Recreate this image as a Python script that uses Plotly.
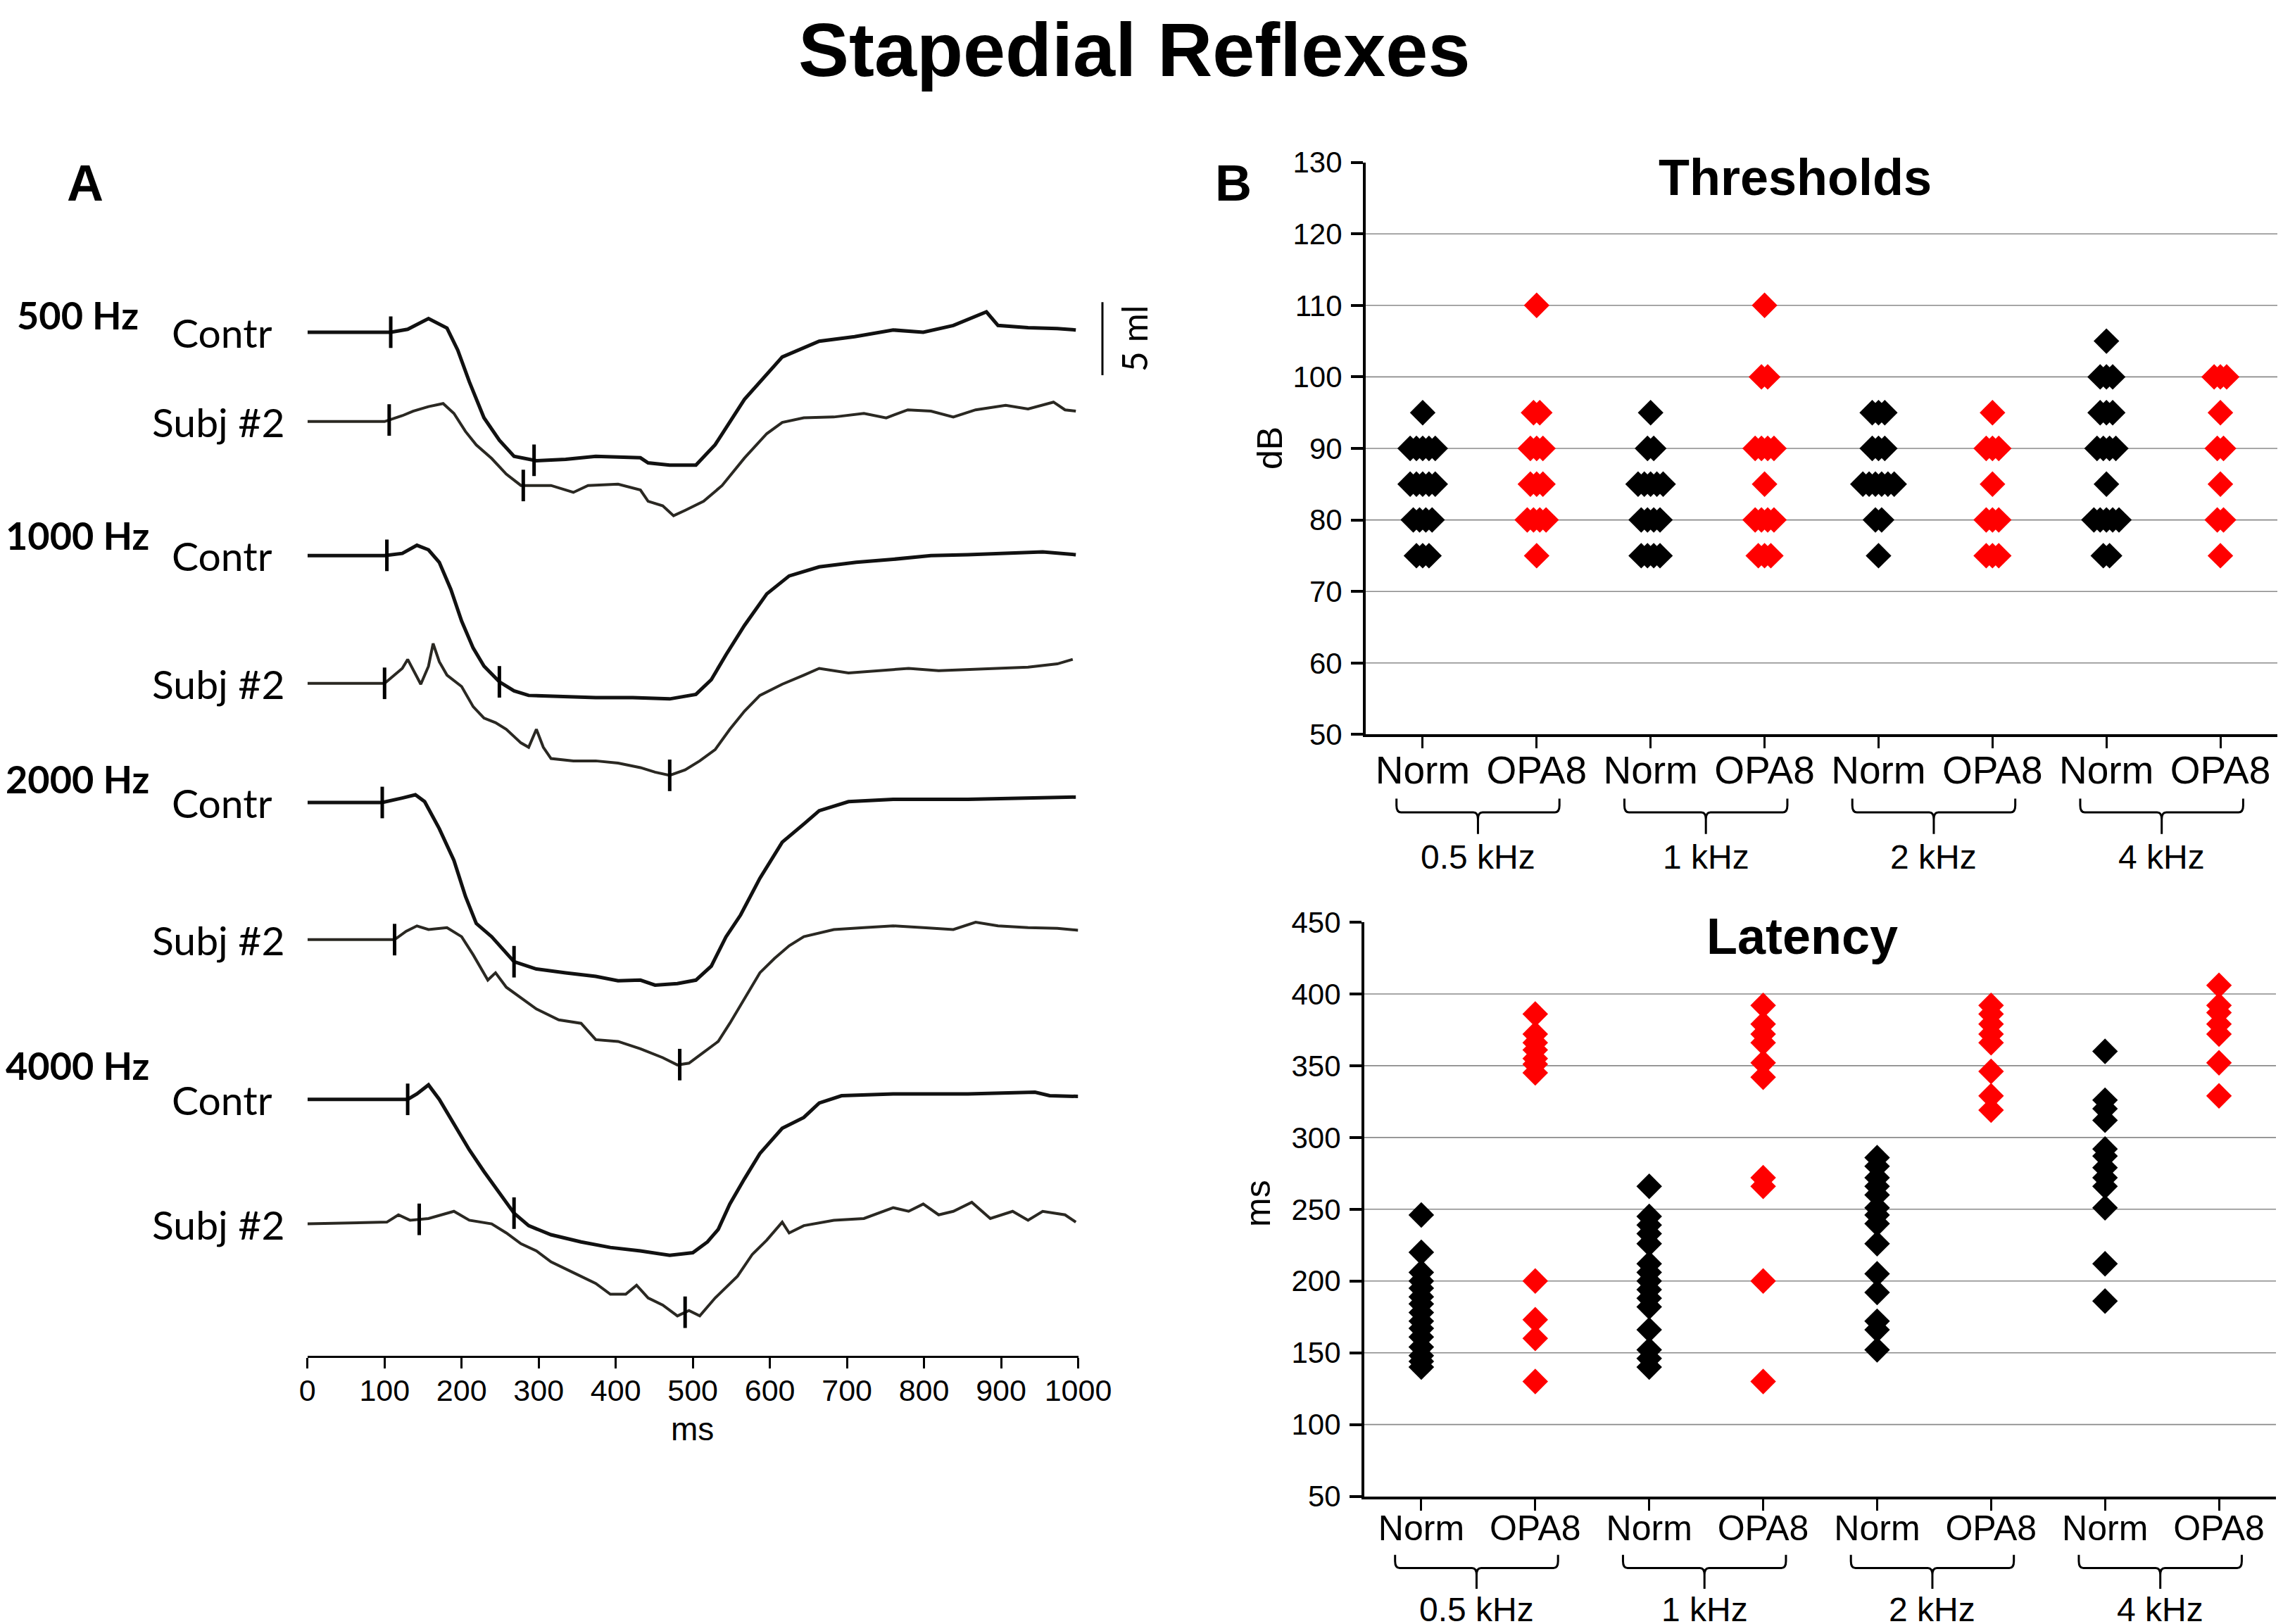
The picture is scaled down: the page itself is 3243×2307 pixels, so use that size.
"""
Stapedial reflexes figure: (A) reflex traces, (B) thresholds and latencies.
"""

import numpy as np
import plotly.graph_objects as go

# ---------------------------------------------------------------------------
# Data - panel A (time in ms, deflection in ml relative to the trace baseline)
# ---------------------------------------------------------------------------

contr_500_t = [0, 100, 108, 130, 157, 181, 195, 210, 229, 249, 268, 297, 335, 374, 432, 442,
               470, 504, 529, 567, 616, 664, 710, 760, 799, 838, 867, 881, 896, 935, 973, 997]
contr_500_v = [0, 0, 0, 0.2, 0.93, 0.28, -1.23, -3.4, -5.86, -7.4, -8.5, -8.8, -8.7, -8.5, -8.6, -8.95,
               -9.1, -9.1, -7.7, -4.6, -1.7, -0.62, -0.31, 0.15, 0, 0.46, 1.08, 1.39, 0.46, 0.31, 0.25, 0.15]

subj_500_t = [0, 100, 123, 137, 157, 176, 190, 205, 219, 239, 258, 277, 316, 345, 364, 403, 432, 442,
              461, 475, 490, 514, 538, 567, 596, 616, 644, 683, 722, 751, 779, 809, 838, 867, 906,
              935, 968, 983, 997]
subj_500_v = [0, 0, 0.4, 0.71, 1.02, 1.23, 0.56, -0.68, -1.6, -2.53, -3.6, -4.38, -4.38, -4.85, -4.38,
              -4.29, -4.69, -5.46, -5.77, -6.45, -6.08, -5.46, -4.38, -2.5, -0.83, -0.06, 0.25, 0.31,
              0.56, 0.25, 0.8, 0.71, 0.31, 0.8, 1.11, 0.86, 1.33, 0.8, 0.71]

contr_1000_t = [0, 100, 123, 142, 157, 171, 186, 200, 215, 229, 249, 268, 287, 326, 374, 422, 470,
                504, 524, 543, 567, 596, 625, 664, 712, 760, 809, 857, 906, 954, 997]
contr_1000_v = [0, 0, 0.15, 0.71, 0.4, -0.46, -2.31, -4.48, -6.33, -7.56, -8.64, -9.26, -9.57, -9.66,
                -9.72, -9.72, -9.81, -9.5, -8.49, -6.79, -4.78, -2.62, -1.39, -0.77, -0.46, -0.25, 0,
                0.06, 0.15, 0.25, 0.06]

subj_1000_t = [0, 100, 123, 130, 147, 157, 163, 171, 181, 200, 215, 229, 244, 258, 277, 287, 297, 306,
               316, 345, 374, 403, 432, 451, 470, 490, 509, 529, 548, 567, 587, 616, 644, 664, 702,
               741, 780, 819, 857, 896, 935, 973, 993]
subj_1000_v = [0, 0, 1.02, 1.64, -0.06, 1.17, 2.72, 1.48, 0.56, -0.22, -1.6, -2.38, -2.69, -3.15, -4.08,
               -4.38, -3.15, -4.38, -5.15, -5.31, -5.31, -5.46, -5.77, -6.08, -6.3, -5.93, -5.31, -4.54,
               -3.15, -1.91, -0.83, -0.06, 0.56, 1.02, 0.71, 0.86, 1.02, 0.86, 0.93, 1.02, 1.11, 1.33, 1.64]

contr_2000_t = [0, 97, 123, 140, 152, 171, 190, 205, 219, 239, 268, 297, 335, 374, 403, 432, 451, 480,
                504, 524, 543, 562, 587, 616, 644, 664, 702, 760, 857, 954, 997]
contr_2000_v = [0, 0, 0.31, 0.53, 0.06, -1.79, -3.96, -6.43, -8.28, -9.19, -10.9, -11.4, -11.66, -11.9,
                -12.2, -12.16, -12.5, -12.4, -12.16, -11.2, -9.2, -7.7, -5.19, -2.72, -1.48, -0.56, 0.06,
                0.22, 0.22, 0.31, 0.37]

subj_2000_t = [0, 100, 113, 128, 142, 157, 181, 200, 215, 234, 244, 258, 277, 297, 326, 355, 374, 403,
               432, 461, 480, 495, 514, 533, 548, 567, 587, 606, 625, 644, 683, 722, 760, 799, 838, 867,
               896, 935, 973, 1000]
subj_2000_v = [0, 0, 0, 0.57, 0.94, 0.69, 0.82, 0.2, -1.04, -2.77, -2.27, -3.26, -4.0, -4.75, -5.49,
               -5.73, -6.85, -6.97, -7.47, -8.08, -8.58, -8.46, -7.71, -6.97, -5.73, -4.0, -2.27, -1.29,
               -0.42, 0.2, 0.69, 0.82, 0.94, 0.82, 0.69, 1.19, 0.94, 0.82, 0.77, 0.64]

contr_4000_t = [0, 130, 142, 157, 171, 190, 210, 229, 249, 268, 287, 316, 355, 393, 432, 470, 500, 519,
                533, 548, 567, 587, 616, 644, 664, 693, 760, 857, 944, 963, 1000]
contr_4000_v = [0, 0, 0.37, 0.99, 0, -1.73, -3.46, -4.94, -6.43, -7.79, -8.65, -9.27, -9.76, -10.14,
                -10.38, -10.68, -10.5, -9.76, -8.9, -7.17, -5.44, -3.71, -1.98, -1.24, -0.25, 0.25, 0.37,
                0.37, 0.49, 0.25, 0.2]

subj_4000_t = [0, 103, 118, 133, 157, 190, 210, 239, 258, 277, 297, 316, 345, 374, 393, 413, 427, 442,
               461, 480, 495, 509, 529, 558, 577, 596, 616, 625, 644, 683, 722, 760, 780, 799, 819, 838,
               862, 886, 915, 935, 954, 983, 997]
subj_4000_v = [0, 0.12, 0.62, 0.25, 0.37, 0.86, 0.25, 0, -0.62, -1.36, -1.85, -2.6, -3.34, -4.08, -4.82,
               -4.82, -4.2, -5.07, -5.56, -6.3, -5.93, -6.3, -5.07, -3.58, -2.1, -1.11, 0.12, -0.62, -0.12,
               0.25, 0.37, 1.11, 0.86, 1.36, 0.62, 0.86, 1.48, 0.37, 0.86, 0.25, 0.86, 0.62, 0.12]

# onset / plateau markers (ms)
ticks_contr_500 = [108, 294]
ticks_subj_500 = [106, 280]
ticks_contr_1000 = [103, 249]
ticks_subj_1000 = [100, 470]
ticks_contr_2000 = [97, 268]
ticks_subj_2000 = [113, 483]
ticks_contr_4000 = [130, 268]
ticks_subj_4000 = [145, 490]

freq_labels_a = ["500 Hz", "1000 Hz", "2000 Hz", "4000 Hz"]
time_ticks = list(range(0, 1001, 100))

# ---------------------------------------------------------------------------
# Data - panel B
# ---------------------------------------------------------------------------

group_labels = ["Norm", "OPA8"] * 4
freq_labels_b = ["0.5 kHz", "1 kHz", "2 kHz", "4 kHz"]

thr_norm_05 = [95] + [90] * 5 + [85] * 5 + [80] * 4 + [75] * 3
thr_opa8_05 = [110] + [95] * 2 + [90] * 3 + [85] * 3 + [80] * 4 + [75]
thr_norm_1 = [95] + [90] * 2 + [85] * 5 + [80] * 4 + [75] * 4
thr_opa8_1 = [110] + [100] * 2 + [90] * 4 + [85] + [80] * 4 + [75] * 3
thr_norm_2 = [95] * 3 + [90] * 3 + [85] * 6 + [80] * 2 + [75]
thr_opa8_2 = [95] + [90] * 3 + [85] + [80] * 3 + [75] * 3
thr_norm_4 = [105] + [100] * 3 + [95] * 3 + [90] * 4 + [85] + [80] * 5 + [75] * 2
thr_opa8_4 = [100] * 3 + [95] + [90] * 2 + [85] + [80] * 2 + [75]

lat_norm_05 = [246, 220, 206, 200, 195, 189, 184, 178, 172, 167, 161, 154, 148, 144, 140]
lat_opa8_05 = [386, 372, 366, 361, 355, 351, 345, 200, 173, 160, 130]
lat_norm_1 = [266, 245, 239, 233, 226, 212, 206, 200, 194, 188, 182, 166, 152, 146, 140]
lat_opa8_1 = [392, 379, 372, 366, 352, 342, 272, 266, 200, 130]
lat_norm_2 = [286, 280, 272, 266, 260, 251, 246, 240, 226, 205, 192, 172, 166, 152]
lat_opa8_2 = [392, 386, 379, 372, 366, 346, 329, 319]
lat_norm_4 = [360, 326, 320, 312, 292, 287, 279, 272, 266, 251, 212, 186]
lat_opa8_4 = [406, 392, 387, 379, 372, 352, 329]

# ---------------------------------------------------------------------------
# Layout constants
# ---------------------------------------------------------------------------

W, H = 3243, 2307
PAGE_OFFSET = 8         # browser body margin in front of the figure
ARIAL = "Liberation Sans, Arial, sans-serif"
CALIBRI = "Lato, Carlito, Calibri, sans-serif"
BLACK = "#000000"
RED = "#ff0000"
GRID = "#8a8a8a"

A_AXIS_PX = 1925.6      # pixel row of panel A time axis
A_TOP_PX = 200.0
A_PX_PER_ML = 20.75
# pixel rows of the 8 trace baselines (Contr/Subj for each frequency)
A_BASE_PX = [471.9, 598.8, 789.3, 970.7, 1140.0, 1334.8, 1561.7, 1738.6]
A_FREQ_LABEL_PX = [448, 760, 1107, 1513]


def _px(x):
    return (x - PAGE_OFFSET) / W


def _py(y):
    return 1 - (y - PAGE_OFFSET) / H


def _base_ml(y_px):
    return (A_AXIS_PX - y_px) / A_PX_PER_ML


def _spread(values, center, step=0.055):
    """Side-by-side offsets for equal values so diamonds don't fully overlap."""
    xs = []
    seen = {}
    counts = {v: values.count(v) for v in values}
    for v in values:
        j = seen.get(v, 0)
        seen[v] = j + 1
        xs.append(center + (j - (counts[v] - 1) / 2) * step)
    return xs


fig = go.Figure()

# ---------------------------------------------------------------------------
# Panel A traces
# ---------------------------------------------------------------------------

traces_a = [
    (contr_500_t, contr_500_v, ticks_contr_500, "Contr"),
    (subj_500_t, subj_500_v, ticks_subj_500, "Subj #2"),
    (contr_1000_t, contr_1000_v, ticks_contr_1000, "Contr"),
    (subj_1000_t, subj_1000_v, ticks_subj_1000, "Subj #2"),
    (contr_2000_t, contr_2000_v, ticks_contr_2000, "Contr"),
    (subj_2000_t, subj_2000_v, ticks_subj_2000, "Subj #2"),
    (contr_4000_t, contr_4000_v, ticks_contr_4000, "Contr"),
    (subj_4000_t, subj_4000_v, ticks_subj_4000, "Subj #2"),
]

annotations = []
for (t, v, tk, name), base_px in zip(traces_a, A_BASE_PX):
    base = _base_ml(base_px)
    is_contr = name == "Contr"
    fig.add_trace(go.Scatter(
        x=t, y=[base + val for val in v], mode="lines",
        line=dict(color="#111111" if is_contr else "#2a2822", width=5 if is_contr else 4),
        xaxis="x", yaxis="y", showlegend=False, hoverinfo="skip",
    ))
    fig.add_trace(go.Scatter(
        x=tk, y=[base + y for y in np.interp(tk, t, v)], mode="markers",
        marker=dict(symbol="line-ns", size=32, line=dict(color=BLACK, width=5)),
        xaxis="x", yaxis="y", showlegend=False, hoverinfo="skip",
    ))
    annotations.append(dict(
        text=name, xref="paper", yref="y", x=_px(389 if is_contr else 406), y=base,
        xanchor="right", yanchor="middle", showarrow=False,
        font=dict(family=CALIBRI, size=57, color=BLACK),
    ))

for label, y in zip(freq_labels_a, A_FREQ_LABEL_PX):
    annotations.append(dict(
        text=label, xref="paper", yref="paper", x=_px(110), y=_py(y),
        xanchor="center", yanchor="middle", showarrow=False,
        font=dict(family=CALIBRI, size=54, color=BLACK, weight="bold"),
    ))

# ---------------------------------------------------------------------------
# Panel B scatter
# ---------------------------------------------------------------------------

thr_groups = [thr_norm_05, thr_opa8_05, thr_norm_1, thr_opa8_1,
              thr_norm_2, thr_opa8_2, thr_norm_4, thr_opa8_4]
lat_groups = [lat_norm_05, lat_opa8_05, lat_norm_1, lat_opa8_1,
              lat_norm_2, lat_opa8_2, lat_norm_4, lat_opa8_4]

for axes, groups in (("2", thr_groups), ("3", lat_groups)):
    for i, vals in enumerate(groups):
        fig.add_trace(go.Scatter(
            x=_spread(vals, i), y=vals, mode="markers",
            marker=dict(symbol="diamond", size=28, color=BLACK if i % 2 == 0 else RED,
                        line=dict(width=0)),
            xaxis="x" + axes, yaxis="y" + axes, showlegend=False,
        ))

# ---------------------------------------------------------------------------
# Layout
# ---------------------------------------------------------------------------

shapes = []
# horizontal gridlines (none at the top tick)
for axes, grid_vals in (("2", range(60, 121, 10)), ("3", range(100, 401, 50))):
    for g in grid_vals:
        shapes.append(dict(type="line", xref=f"x{axes} domain", yref=f"y{axes}",
                           x0=0, x1=1, y0=g, y1=g, layer="below",
                           line=dict(color=GRID, width=1.6)))

# group brackets under category labels
bracket_y = {"2": (-0.112, -0.136, -0.174, -0.214), "3": (-0.102, -0.125, -0.161, -0.197)}
for axes, (y_top, y_h, y_bot, y_lab) in bracket_y.items():
    for k, flab in enumerate(freq_labels_b):
        xl, xr = 2 * k - 0.23, 2 * k + 1 + 0.2
        xc = (xl + xr) / 2
        d, e = 0.04, 0.012
        path = (f"M{xl},{y_top} L{xl},{y_h + e} Q{xl},{y_h} {xl + d},{y_h} "
                f"L{xc - d},{y_h} Q{xc},{y_h} {xc},{y_h - e} L{xc},{y_bot} "
                f"M{xc},{y_h - e} Q{xc},{y_h} {xc + d},{y_h} "
                f"L{xr - d},{y_h} Q{xr},{y_h} {xr},{y_h + e} L{xr},{y_top}")
        shapes.append(dict(type="path", xref=f"x{axes}", yref=f"y{axes} domain", path=path,
                           line=dict(color=BLACK, width=3)))
        annotations.append(dict(
            text=flab, xref=f"x{axes}", yref=f"y{axes} domain", x=xc, y=y_lab,
            xanchor="center", yanchor="middle", showarrow=False,
            font=dict(family=ARIAL, size=48, color=BLACK),
        ))

# 5 ml scale bar
bar_bottom = _base_ml(533)
shapes.append(dict(type="line", xref="paper", yref="y", x0=_px(1566), x1=_px(1566),
                   y0=bar_bottom, y1=bar_bottom + 5, line=dict(color=BLACK, width=3)))

annotations += [
    dict(text="5 ml", xref="paper", yref="y", x=_px(1611), y=bar_bottom + 2.5, textangle=-90,
         showarrow=False, xanchor="center", yanchor="middle",
         font=dict(family=CALIBRI, size=50, color=BLACK)),
    dict(text="Stapedial Reflexes", xref="paper", yref="paper", x=_px(1611), y=1,
         showarrow=False, xanchor="center", yanchor="top",
         font=dict(family=ARIAL, size=108, color=BLACK, weight="bold")),
    dict(text="A", xref="paper", yref="paper", x=_px(121), y=_py(260),
         showarrow=False, xanchor="center", yanchor="middle",
         font=dict(family=ARIAL, size=72, color=BLACK, weight="bold")),
    dict(text="B", xref="paper", yref="paper", x=_px(1752), y=_py(260),
         showarrow=False, xanchor="center", yanchor="middle",
         font=dict(family=ARIAL, size=72, color=BLACK, weight="bold")),
    dict(text="Thresholds", xref="paper", yref="paper", x=_px(2550), y=_py(252),
         showarrow=False, xanchor="center", yanchor="middle",
         font=dict(family=ARIAL, size=72, color=BLACK, weight="bold")),
    dict(text="Latency", xref="paper", yref="paper", x=_px(2560), y=_py(1330),
         showarrow=False, xanchor="center", yanchor="middle",
         font=dict(family=ARIAL, size=72, color=BLACK, weight="bold")),
    dict(text="dB", xref="paper", yref="paper", x=_px(1804), y=_py(637), textangle=-90,
         showarrow=False, xanchor="center", yanchor="middle",
         font=dict(family=ARIAL, size=50, color=BLACK)),
    dict(text="ms", xref="paper", yref="paper", x=_px(1787), y=_py(1710), textangle=-90,
         showarrow=False, xanchor="center", yanchor="middle",
         font=dict(family=ARIAL, size=50, color=BLACK)),
    dict(text="ms", xref="paper", yref="paper", x=_px(984), y=_py(2030),
         showarrow=False, xanchor="center", yanchor="middle",
         font=dict(family=ARIAL, size=46, color=BLACK)),
]

axis_common = dict(showline=True, linecolor=BLACK, ticks="outside", tickcolor=BLACK,
                   showgrid=False, zeroline=False, automargin=False)

fig.update_layout(
    template="none",
    width=W, height=H,
    margin=dict(l=0, r=0, t=0, b=0, pad=0, autoexpand=False),
    paper_bgcolor="white", plot_bgcolor="white",
    showlegend=False,
    xaxis=dict(**axis_common, domain=[_px(436.8), _px(1531.5)], range=[0, 1000],
               tickvals=time_ticks, linewidth=3, ticklen=15, tickwidth=3, anchor="y",
               ticklabelstandoff=-5, tickfont=dict(family=ARIAL, size=43, color=BLACK)),
    yaxis=dict(domain=[_py(A_AXIS_PX), _py(A_TOP_PX)], automargin=False,
               range=[0, (A_AXIS_PX - A_TOP_PX) / A_PX_PER_ML], visible=False, anchor="x"),
    xaxis2=dict(**axis_common, domain=[_px(1940), _px(3235)], range=[-0.5, 7.5],
                tickvals=list(range(8)), ticktext=group_labels, linewidth=4, ticklen=16,
                tickwidth=3, anchor="y2", ticklabelstandoff=-16,
                tickfont=dict(family=ARIAL, size=55, color=BLACK)),
    yaxis2=dict(**axis_common, domain=[_py(1043.4), _py(230.6)], range=[50, 130], dtick=10,
                linewidth=4, ticklen=17, tickwidth=3.5, anchor="x2", ticklabelstandoff=4,
                tickfont=dict(family=ARIAL, size=42, color=BLACK)),
    xaxis3=dict(**axis_common, domain=[_px(1938), _px(3233)], range=[-0.5, 7.5],
                tickvals=list(range(8)), ticktext=group_labels, linewidth=4, ticklen=16,
                tickwidth=3, anchor="y3", ticklabelstandoff=-18,
                tickfont=dict(family=ARIAL, size=50, color=BLACK)),
    yaxis3=dict(**axis_common, domain=[_py(2125.6), _py(1310)], range=[50, 450], dtick=50,
                linewidth=4, ticklen=17, tickwidth=3.5, anchor="x3", ticklabelstandoff=4,
                tickfont=dict(family=ARIAL, size=42, color=BLACK)),
    shapes=shapes,
    annotations=annotations,
)

fig.write_html("out.html")
